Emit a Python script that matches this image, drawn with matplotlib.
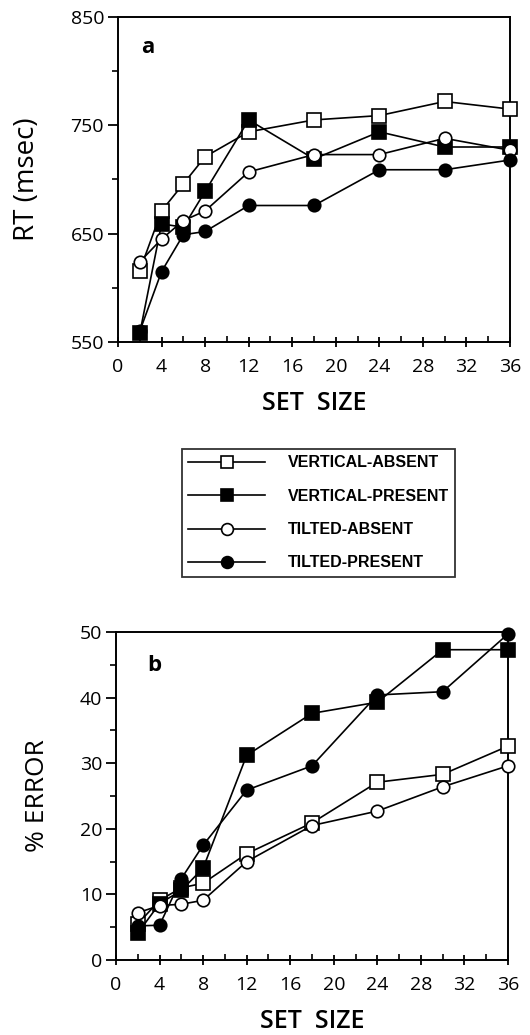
import matplotlib
matplotlib.use("Agg")
import matplotlib.pyplot as plt
from matplotlib.ticker import MultipleLocator
from matplotlib.lines import Line2D


set_size = [2, 4, 6, 8, 12, 18, 24, 30, 36]

# panel a: reaction time (msec)
rt_vert_absent = [616, 671, 696, 721, 744, 755, 759, 772, 765]
rt_vert_present = [558, 659, 656, 689, 755, 719, 744, 730, 730]
rt_tilt_absent = [624, 645, 662, 671, 707, 723, 723, 738, 727]
rt_tilt_present = [560, 615, 649, 652, 676, 676, 709, 709, 718]
rt_ticks = [550, 650, 750, 850]
rt_minor_ticks = [600, 700, 800]

# panel b: % error
err_vert_absent = [5.5, 9.1, 11.0, 11.7, 16.2, 20.9, 27.1, 28.3, 32.6]
err_vert_present = [4.1, 8.6, 10.6, 14.0, 31.2, 37.6, 39.3, 47.3, 47.3]
err_tilt_absent = [7.2, 8.3, 8.5, 9.1, 15.0, 20.5, 22.7, 26.4, 29.6]
err_tilt_present = [5.2, 5.3, 12.4, 17.5, 25.9, 29.6, 40.4, 40.9, 49.7]

labels = ["VERTICAL-ABSENT", "VERTICAL-PRESENT", "TILTED-ABSENT", "TILTED-PRESENT"]
styles = [("s", "white"), ("s", "black"), ("o", "white"), ("o", "black")]

plt.rcParams["font.family"] = ["Open Sans", "DejaVu Sans"]

fig = plt.figure(figsize=(5.3, 10.35), dpi=100)
ax_a = fig.add_axes([118 / 530, 1 - 342 / 1035, 392 / 530, 325 / 1035])
ax_b = fig.add_axes([116 / 530, 1 - 960 / 1035, 392 / 530, 328 / 1035])


def draw_series(ax, series):
    for ys, (mk, fc) in zip(series, styles):
        ms = 9.5 if mk == "s" else 9
        ax.plot(set_size, ys, color="black", lw=1.2, marker=mk, ms=ms,
                mfc=fc, mec="black", mew=1.2, clip_on=False, zorder=3)


def style_axes(ax):
    ax.set_xlim(0, 36)
    ax.xaxis.set_major_locator(MultipleLocator(4))
    ax.xaxis.set_minor_locator(MultipleLocator(2))
    ax.tick_params(axis="x", which="major", direction="inout", length=7, width=1.3,
                   labelsize=14, pad=8)
    ax.tick_params(axis="x", which="minor", direction="in", length=4, width=1.2)
    ax.tick_params(axis="y", which="major", direction="out", length=7, width=1.3,
                   labelsize=14, pad=3)
    ax.tick_params(axis="y", which="minor", direction="out", length=4, width=1.2)
    for sp in ax.spines.values():
        sp.set_linewidth(1.4)
    ax.set_xlabel("SET  SIZE", fontsize=18, fontweight="semibold", labelpad=11)


draw_series(ax_a, [rt_vert_absent, rt_vert_present, rt_tilt_absent, rt_tilt_present])
style_axes(ax_a)
ax_a.set_ylim(550, 850)
ax_a.set_yticks(rt_ticks)
ax_a.set_yticks(rt_minor_ticks, minor=True)
ax_a.set_ylabel("RT (msec)", fontsize=20, labelpad=21)
ax_a.text(0.06, 0.89, "a", transform=ax_a.transAxes, fontsize=16, fontweight="bold")

draw_series(ax_b, [err_vert_absent, err_vert_present, err_tilt_absent, err_tilt_present])
style_axes(ax_b)
ax_b.set_ylim(0, 50)
ax_b.yaxis.set_major_locator(MultipleLocator(10))
ax_b.yaxis.set_minor_locator(MultipleLocator(5))
ax_b.set_ylabel("% ERROR", fontsize=19, labelpad=21)
ax_b.text(0.08, 0.88, "b", transform=ax_b.transAxes, fontsize=16, fontweight="bold")

handles = []
for mk, fc in styles:
    ms = 9 if mk == "s" else 8.5
    handles.append(Line2D([], [], color="black", lw=1.2, marker=mk, ms=ms,
                          mfc=fc, mec="black", mew=1.2))
leg = fig.legend(handles, labels, loc="upper left",
                 bbox_to_anchor=(182 / 530, 1 - 449 / 1035),
                 borderaxespad=0, frameon=True, fancybox=False,
                 handlelength=4.8, handletextpad=1.4, labelspacing=1.15,
                 borderpad=0.4,
                 prop={"family": ["Liberation Sans", "DejaVu Sans"],
                       "size": 11.5, "weight": "bold"})
leg.get_frame().set_edgecolor("black")
leg.get_frame().set_linewidth(1.3)

fig.savefig("out.png", dpi=100)
